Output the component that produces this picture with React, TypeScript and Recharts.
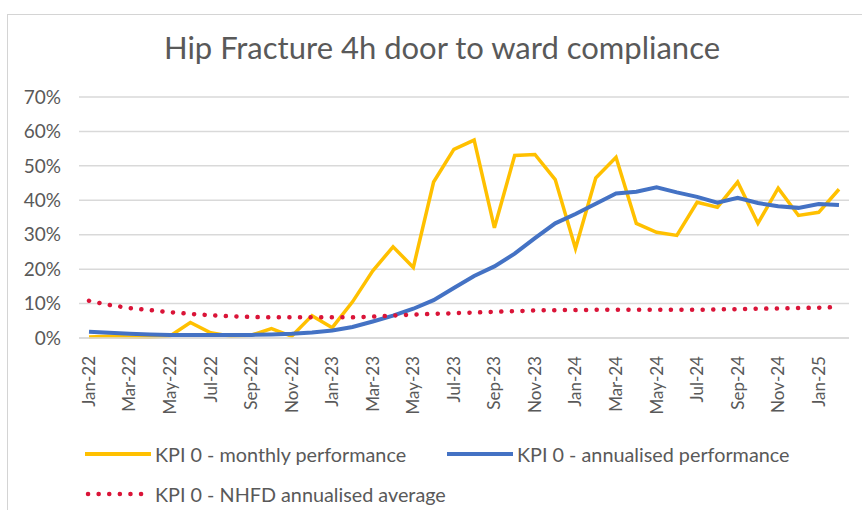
import React from 'react';
import { LineChart, Line, XAxis, YAxis, CartesianGrid } from 'recharts';

const months = [
  'Jan-22', 'Feb-22', 'Mar-22', 'Apr-22', 'May-22', 'Jun-22', 'Jul-22', 'Aug-22', 'Sep-22', 'Oct-22', 'Nov-22', 'Dec-22',
  'Jan-23', 'Feb-23', 'Mar-23', 'Apr-23', 'May-23', 'Jun-23', 'Jul-23', 'Aug-23', 'Sep-23', 'Oct-23', 'Nov-23', 'Dec-23',
  'Jan-24', 'Feb-24', 'Mar-24', 'Apr-24', 'May-24', 'Jun-24', 'Jul-24', 'Aug-24', 'Sep-24', 'Oct-24', 'Nov-24', 'Dec-24',
  'Jan-25', 'Feb-25',
];

const monthlyPerformance = [
  0.3, 0.5, 0.3, 0.2, 0.6, 4.5, 1.5, 0.5, 0.8, 2.7, 0.5, 6.5,
  3.0, 10.5, 19.5, 26.5, 20.5, 45.3, 54.8, 57.5, 32.0, 53.0, 53.3, 46.0,
  26.0, 46.5, 52.5, 33.3, 30.7, 29.8, 39.4, 38.0, 45.3, 33.3, 43.5, 35.6,
  36.5, 43.2,
];

const annualisedPerformance = [
  1.8, 1.5, 1.2, 1.0, 0.9, 0.9, 0.9, 0.9, 0.9, 1.0, 1.2, 1.6,
  2.2, 3.2, 4.8, 6.5, 8.5, 11.0, 14.5, 18.0, 20.8, 24.5, 29.0, 33.3,
  36.0, 39.0, 42.0, 42.5, 43.8, 42.3, 41.0, 39.3, 40.7, 39.2, 38.3, 37.8,
  38.9, 38.6,
];

const nhfdAverage = [
  10.8, 9.6, 8.7, 8.1, 7.5, 7.0, 6.6, 6.3, 6.1, 6.0, 6.0, 6.0,
  6.0, 6.0, 6.2, 6.5, 6.8, 7.0, 7.2, 7.4, 7.6, 7.8, 8.0, 8.1,
  8.1, 8.2, 8.2, 8.2, 8.2, 8.2, 8.2, 8.3, 8.4, 8.5, 8.6, 8.7,
  8.8, 9.0,
];

const yTicks = [0, 10, 20, 30, 40, 50, 60, 70];

const seriesNames = {
  monthly: 'KPI 0 - monthly performance',
  annualised: 'KPI 0 - annualised performance',
  nhfd: 'KPI 0 - NHFD annualised average',
};

const COLORS = {
  monthly: '#FFC000',
  annualised: '#4472C4',
  nhfd: '#DA1438',
  text: '#595959',
  grid: '#D9D9D9',
};

const FONT = 'Lato, "Noto Sans", sans-serif';

const data = months.map((m, i) => ({
  month: m,
  monthly: monthlyPerformance[i],
  annualised: annualisedPerformance[i],
  nhfd: nhfdAverage[i],
}));

const XTick = (props: any) => {
  const { x, y, payload } = props;
  return (
    <text
      x={x}
      y={y}
      transform={`rotate(-90 ${x} ${y})`}
      textAnchor="end"
      dy="0.35em"
      fill={COLORS.text}
      fontSize={17}
      fontFamily={FONT}
    >
      {payload.value}
    </text>
  );
};

const LegendItem = ({ color, label, dotted }: { color: string; label: string; dotted?: boolean }) => (
  <div style={{ display: 'flex', alignItems: 'center' }}>
    <svg width={66} height={10} style={{ marginRight: 4 }}>
      {dotted ? (
        <line x1={3} y1={5} x2={64} y2={5} stroke={color} strokeWidth={4.5} strokeDasharray="0.1 10.5" strokeLinecap="round" />
      ) : (
        <line x1={0} y1={5} x2={66} y2={5} stroke={color} strokeWidth={4} />
      )}
    </svg>
    <span style={{ fontSize: 19.8, color: COLORS.text, fontFamily: FONT, whiteSpace: 'nowrap' }}>{label}</span>
  </div>
);

export default function App() {
  return (
    <div
      style={{
        position: 'absolute',
        left: 0,
        top: 0,
        width: 862,
        height: 510,
        background: '#fff',
        overflow: 'hidden',
        fontFamily: FONT,
      }}
    >
      <div
        style={{
          position: 'absolute',
          left: 7,
          top: 14,
          width: 900,
          height: 600,
          borderLeft: '1px solid #D4D4D4',
          borderTop: '1px solid #D4D4D4',
        }}
      />
      <div
        style={{
          position: 'absolute',
          left: 0,
          top: 29,
          width: 884,
          textAlign: 'center',
          fontSize: 31,
          lineHeight: '36px',
          color: COLORS.text,
          fontFamily: FONT,
        }}
      >
        Hip Fracture 4h door to ward compliance
      </div>
      <div style={{ position: 'absolute', left: 0, top: 0 }}>
        <LineChart width={862} height={510} data={data} margin={{ top: 97, right: 13, left: 0, bottom: 102 }}>
          <CartesianGrid vertical={false} stroke={COLORS.grid} strokeWidth={1.5} />
          <XAxis
            dataKey="month"
            interval={1}
            tick={<XTick />}
            tickLine={false}
            tickSize={0}
            tickMargin={18}
            height={70}
            axisLine={{ stroke: COLORS.grid, strokeWidth: 1.5 }}
            padding={{ left: 10, right: 10 }}
          />
          <YAxis
            width={79}
            domain={[0, 70]}
            ticks={yTicks}
            tickFormatter={(v: number) => `${v}%`}
            tick={{ fill: COLORS.text, fontSize: 19, fontFamily: FONT }}
            tickLine={false}
            tickSize={0}
            tickMargin={18}
            axisLine={false}
          />
          <Line
            type="linear"
            dataKey="monthly"
            name={seriesNames.monthly}
            stroke={COLORS.monthly}
            strokeWidth={3.5}
            dot={false}
            activeDot={false}
            isAnimationActive={false}
          />
          <Line
            type="linear"
            dataKey="annualised"
            name={seriesNames.annualised}
            stroke={COLORS.annualised}
            strokeWidth={4}
            dot={false}
            activeDot={false}
            isAnimationActive={false}
          />
          <Line
            type="linear"
            dataKey="nhfd"
            name={seriesNames.nhfd}
            stroke={COLORS.nhfd}
            strokeWidth={4.5}
            strokeDasharray="0.1 10.5"
            strokeLinecap="round"
            dot={false}
            activeDot={false}
            isAnimationActive={false}
          />
        </LineChart>
      </div>
      <div style={{ position: 'absolute', left: 85, top: 442 }}>
        <LegendItem color={COLORS.monthly} label={seriesNames.monthly} />
      </div>
      <div style={{ position: 'absolute', left: 447, top: 442 }}>
        <LegendItem color={COLORS.annualised} label={seriesNames.annualised} />
      </div>
      <div style={{ position: 'absolute', left: 85, top: 482 }}>
        <LegendItem color={COLORS.nhfd} label={seriesNames.nhfd} dotted />
      </div>
    </div>
  );
}
